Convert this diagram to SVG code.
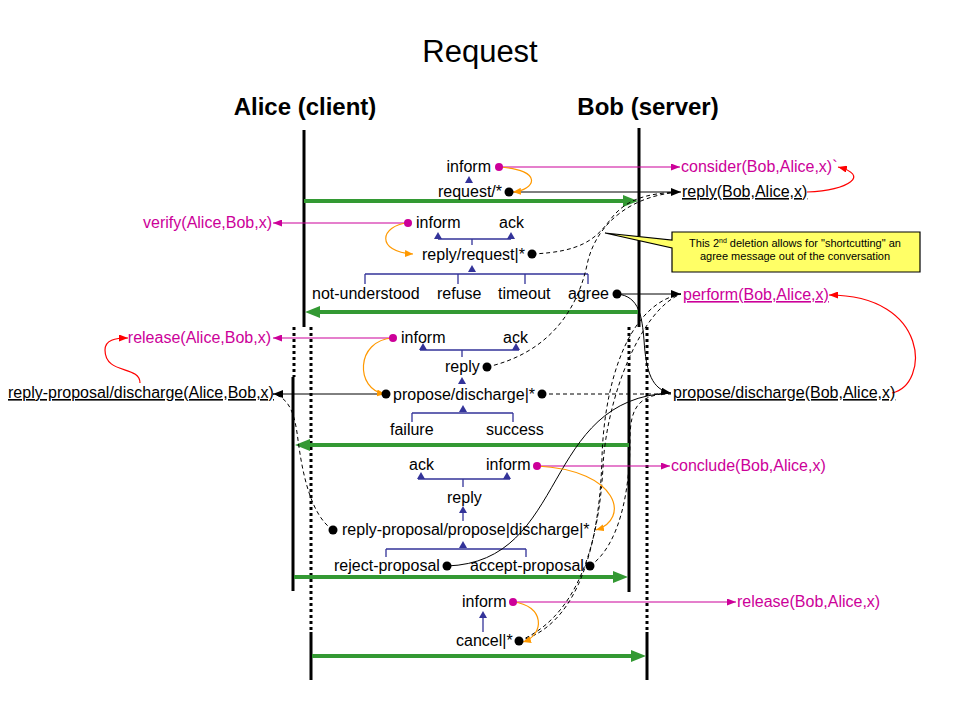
<svg xmlns="http://www.w3.org/2000/svg" width="960" height="720" viewBox="0 0 960 720">
<style>
text{font-family:"Liberation Sans",Arial,sans-serif;font-size:16px;fill:#000}
.t{font-size:31px}
.h{font-size:24px;font-weight:bold}
.m{fill:#cc0099}
.u{text-decoration:underline}
.c{font-size:11px}
.life{stroke:#000;stroke-width:3;fill:none}
.dotl{stroke:#000;stroke-width:3;stroke-dasharray:3 3;fill:none}
.g{stroke:#339933;stroke-width:4;fill:none}
.gh{fill:#339933}
.bl{stroke:#333399;stroke-width:1.3;fill:none}
.bt{fill:#333399}
.k{stroke:#000;stroke-width:1;fill:none}
.kd{stroke:#000;stroke-width:1;fill:none;stroke-dasharray:4 3}
.mg{stroke:#cc0099;stroke-width:1.2;fill:none}
.or{stroke:#ff9900;stroke-width:1.2;fill:none}
.rd{stroke:#ff0000;stroke-width:1.2;fill:none}
.dk{fill:#000}
.dm{fill:#cc0099}
</style>
<defs>
<marker id="ak" viewBox="0 0 10 8" refX="10" refY="4" markerWidth="10" markerHeight="8" markerUnits="userSpaceOnUse" orient="auto"><path d="M0,0L10,4L0,8z" fill="#000"/></marker>
<marker id="am" viewBox="0 0 9 7" refX="9" refY="3.5" markerWidth="9" markerHeight="7" markerUnits="userSpaceOnUse" orient="auto"><path d="M0,0L9,3.5L0,7z" fill="#cc0099"/></marker>
<marker id="ao" viewBox="0 0 8 7" refX="8" refY="3.5" markerWidth="8" markerHeight="7" markerUnits="userSpaceOnUse" orient="auto"><path d="M0,0L8,3.5L0,7z" fill="#ff9900"/></marker>
<marker id="ar" viewBox="0 0 9 7" refX="9" refY="3.5" markerWidth="9" markerHeight="7" markerUnits="userSpaceOnUse" orient="auto"><path d="M0,0L9,3.5L0,7z" fill="#ff0000"/></marker>
<path id="tri" d="M0,-4L4,3L-4,3Z"/>
</defs>
<rect width="960" height="720" fill="#fff"/>
<g id="title"><text class="t" x="480" y="62" text-anchor="middle">Request</text></g>
<g id="alice"><text class="h" x="305" y="115" text-anchor="middle">Alice (client)</text>
<path class="life" d="M304,130V327M293,377V591M311,632V680"/>
<path class="dotl" d="M294,327V377M311,327V632"/></g>
<g id="bob"><text class="h" x="648" y="115" text-anchor="middle">Bob (server)</text>
<path class="life" d="M639,128V327M629,377V592M647,632V680"/>
<path class="dotl" d="M629,327V377M647,327V632"/></g>
<g id="green-arrows">
<path class="g" d="M304,201H624"/><polygon class="gh" points="638,201 623,195 623,207"/>
<path class="g" d="M638,312H318"/><polygon class="gh" points="305,312 320,306 320,318"/>
<path class="g" d="M629,445H308"/><polygon class="gh" points="295,445 310,439 310,451"/>
<path class="g" d="M294,577H614"/><polygon class="gh" points="628,577 613,571 613,583"/>
<path class="g" d="M312,656H632"/><polygon class="gh" points="646,656 631,650 631,662"/>
</g>
<g id="brackets" class="bt">
<use href="#tri" x="469" y="180"/>
<use href="#tri" x="438" y="236"/><use href="#tri" x="511" y="236"/>
<path class="bl" d="M438,239H511M472,239V245"/>
<use href="#tri" x="472" y="269"/>
<path class="bl" d="M365,274H588M365,274V284M458,274V284M525,274V284M588,274V284"/>
<use href="#tri" x="423" y="347"/><use href="#tri" x="516" y="347"/>
<path class="bl" d="M420,350H519M462,350V357"/>
<use href="#tri" x="462" y="381"/>
<use href="#tri" x="463" y="409"/>
<path class="bl" d="M412,413H513M412,413V422M513,413V422"/>
<use href="#tri" x="421" y="476"/><use href="#tri" x="507" y="476"/>
<path class="bl" d="M418,479H510M463,479V487"/>
<use href="#tri" x="463" y="510"/>
<path class="bl" d="M463,513V521"/>
<use href="#tri" x="463" y="545"/>
<path class="bl" d="M386,549H526M386,549V557M526,549V557"/>
<use href="#tri" x="483" y="615"/>
<path class="bl" d="M483,618V632"/>
</g>
<g id="connectors">
<path class="mg" d="M499,167H680" marker-end="url(#am)"/>
<path class="mg" d="M408,223H273" marker-end="url(#am)"/>
<path class="mg" d="M393,338H273" marker-end="url(#am)"/>
<path class="mg" d="M537,466H670" marker-end="url(#am)"/>
<path class="mg" d="M513,602H736" marker-end="url(#am)"/>
<path class="k" d="M509,192H681" marker-end="url(#ak)"/>
<path class="k" d="M617,294H681" marker-end="url(#ak)"/>
<path class="k" d="M386,394H273" marker-end="url(#ak)"/>
<path class="k" d="M617,294C640,296 642,318 644,340C646,372 652,390 671,393" marker-end="url(#ak)"/>
<path class="k" d="M447,566C570,562 540,398 671,393"/>
<path class="kd" d="M532,254C580,252 595,240 610,220C625,200 645,193 681,192"/>
<path class="kd" d="M487,367C540,355 575,320 587,265C595,225 630,195 681,192"/>
<path class="kd" d="M542,394H671"/>
<path class="kd" d="M590,566C620,545 630,490 630,440C630,405 640,395 671,393"/>
<path class="kd" d="M519,641C570,620 598,560 603,467C606,400 640,310 681,294"/>
<path class="kd" d="M519,641C580,625 600,540 602,457C604,390 625,305 681,294"/>
<path class="kd" d="M333,530C310,515 302,470 298,440C295,415 290,398 273,394"/>
<path class="or" d="M499,167C545,170 535,190 513,192" marker-end="url(#ao)"/>
<path class="or" d="M408,223C380,225 375,252 413,254" marker-end="url(#ao)"/>
<path class="or" d="M393,338C355,340 355,390 385,394" marker-end="url(#ao)"/>
<path class="or" d="M537,466C620,470 630,520 596,530" marker-end="url(#ao)"/>
<path class="or" d="M513,602C545,605 545,635 523,642" marker-end="url(#ao)"/>
<path class="rd" d="M807,192C850,190 870,175 838,167" marker-end="url(#ar)"/>
<path class="rd" d="M892,393C930,385 930,295 829,295" marker-end="url(#ar)"/>
<path class="rd" d="M140,383C140,365 105,375 105,350C105,340 115,338 128,338" marker-end="url(#ar)"/>
</g>
<g id="n-inform1"><text x="491" y="172" text-anchor="end">inform</text><circle class="dm" cx="499" cy="167" r="4"/></g>
<g id="n-request"><text x="502" y="197" text-anchor="end">request/*</text><circle class="dk" cx="509" cy="192" r="4.5"/></g>
<g id="n-consider"><text class="m" x="681" y="172">consider(Bob,Alice,x)`</text></g>
<g id="n-reply-bob"><text class="u" x="682" y="197">reply(Bob,Alice,x)</text></g>
<g id="n-verify"><text class="m" x="272" y="228" text-anchor="end">verify(Alice,Bob,x)</text></g>
<g id="n-inform2"><text x="416" y="228">inform</text><circle class="dm" cx="408" cy="223" r="4"/></g>
<g id="n-ack1"><text x="499" y="228">ack</text></g>
<g id="n-reply-request"><text x="422" y="260">reply/request|*</text><circle class="dk" cx="532" cy="254" r="4.5"/></g>
<g id="n-not-understood"><text x="312" y="299">not-understood</text></g>
<g id="n-refuse"><text x="437" y="299">refuse</text></g>
<g id="n-timeout"><text x="498" y="299">timeout</text></g>
<g id="n-agree"><text x="568" y="299">agree</text><circle class="dk" cx="617" cy="294" r="4.5"/></g>
<g id="n-perform"><text class="m u" x="683" y="300">perform(Bob,Alice,x)</text></g>
<g id="n-release-alice"><text class="m" x="271" y="343" text-anchor="end">release(Alice,Bob,x)</text></g>
<g id="n-inform3"><text x="401" y="343">inform</text><circle class="dm" cx="393" cy="338" r="4"/></g>
<g id="n-ack2"><text x="503" y="343">ack</text></g>
<g id="n-reply2"><text x="445" y="372">reply</text><circle class="dk" cx="487" cy="367" r="4.5"/></g>
<g id="n-rp-discharge-alice"><text class="u" x="8" y="398">reply-proposal/discharge(Alice,Bob,x)</text></g>
<g id="n-propose-discharge"><text x="393" y="400">propose/discharge|*</text><circle class="dk" cx="386" cy="394" r="4.5"/><circle class="dk" cx="542" cy="394" r="4.5"/></g>
<g id="n-pd-bob"><text class="u" x="673" y="398">propose/discharge(Bob,Alice,x)</text></g>
<g id="n-failure"><text x="390" y="435">failure</text></g>
<g id="n-success"><text x="486" y="435">success</text></g>
<g id="n-ack3"><text x="409" y="470">ack</text></g>
<g id="n-inform4"><text x="486" y="470">inform</text><circle class="dm" cx="537" cy="466" r="4"/></g>
<g id="n-conclude"><text class="m" x="671" y="471">conclude(Bob,Alice,x)</text></g>
<g id="n-reply3"><text x="447" y="503">reply</text></g>
<g id="n-rp-propose"><text x="342" y="535">reply-proposal/propose|discharge|*</text><circle class="dk" cx="333" cy="530" r="4.5"/></g>
<g id="n-reject"><text x="334" y="571">reject-proposal</text><circle class="dk" cx="447" cy="566" r="4.5"/></g>
<g id="n-accept"><text x="470" y="571">accept-proposal</text><circle class="dk" cx="590" cy="566" r="4.5"/></g>
<g id="n-inform5"><text x="462" y="607">inform</text><circle class="dm" cx="513" cy="602" r="4"/></g>
<g id="n-release-bob"><text class="m" x="737" y="607">release(Bob,Alice,x)</text></g>
<g id="n-cancel"><text x="456" y="646">cancel|*</text><circle class="dk" cx="519" cy="641" r="4.5"/></g>
<g id="callout">
<path d="M672,232H920V272H672V248L605,233L672,240Z" fill="#ffff66" stroke="#000" stroke-width="1.2"/>
<text class="c" x="795" y="247" text-anchor="middle">This 2<tspan font-size="7" dy="-4">nd</tspan><tspan dy="4"> deletion allows for "shortcutting" an</tspan></text>
<text class="c" x="795" y="260" text-anchor="middle">agree message out of the conversation</text>
</g>
</svg>
